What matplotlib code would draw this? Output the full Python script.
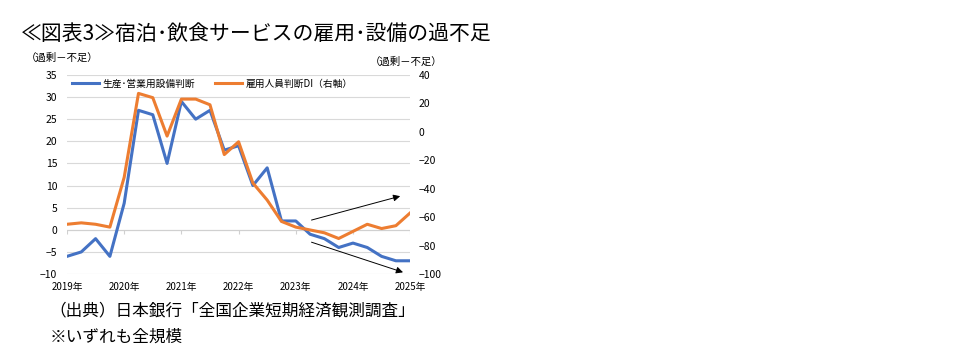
import matplotlib
matplotlib.use("Agg")
import matplotlib.pyplot as plt
import numpy as np

plt.rcParams['font.family'] = ['Noto Sans CJK JP', 'DejaVu Sans']

# quarterly, 2019 Q1 .. 2025 Q1
quarters = np.arange(25)
year_labels = ['2019年', '2020年', '2021年', '2022年', '2023年', '2024年', '2025年']
year_pos = quarters[::4]

setsubi = [-6, -5, -2, -6,
           6, 27, 26, 15,
           29, 25, 27, 18,
           19, 10, 14, 2,
           2, -1, -2, -4,
           -3, -4, -6, -7,
           -7]
koyou = [-65, -64, -65, -67,
         -32, 27, 24, -3,
         23, 23, 19, -16,
         -7, -36, -48, -63,
         -67, -69, -71, -75,
         -70, -65, -68, -66,
         -57]

# trend arrows (x in quarters, y on left axis)
arrow_up = ((17.1, 2.2), (23.3, 7.6))
arrow_down = ((17.1, -2.8), (23.5, -9.6))

blue = '#4472C4'
orange = '#ED7D31'

fig = plt.figure(figsize=(9.75, 3.55), dpi=100)
ax = fig.add_axes([0.0687, 0.228, 0.352, 0.561])
ax2 = ax.twinx()

l1, = ax.plot(quarters, setsubi, color=blue, lw=2.2, label='生産･営業用設備判断', zorder=3)
l2, = ax2.plot(quarters, koyou, color=orange, lw=2.2, label='雇用人員判断DI（右軸）', zorder=3)

ax.set_xlim(0, 24)
ax.set_ylim(-10, 35)
ax.set_yticks(np.arange(-10, 36, 5))
ax2.set_ylim(-100, 40)
ax2.set_yticks(np.arange(-100, 41, 20))

ax.grid(axis='y', color='#d9d9d9', lw=0.8)
ax.set_axisbelow(True)
for a in (ax, ax2):
    for s in a.spines.values():
        s.set_visible(False)

ax.axhline(0, color='#d0d0d0', lw=0.8, zorder=1)
ax.vlines(year_pos, -0.9, 0, color='#d0d0d0', lw=0.8, zorder=1)

ax.set_xticks(year_pos)
ax.set_xticklabels(year_labels)
ax.tick_params(axis='x', length=0, pad=6, labelsize=7)
ax.tick_params(axis='y', length=0, pad=7, labelsize=7.5)
ax2.tick_params(axis='y', length=0, pad=6, labelsize=7.5)

for (x0, y0), (x1, y1) in (arrow_up, arrow_down):
    ax.annotate('', xy=(x1, y1), xytext=(x0, y0),
                arrowprops=dict(arrowstyle='-|>', color='black', lw=0.7,
                                mutation_scale=10, shrinkA=0, shrinkB=0))

ax.legend(handles=[l1, l2], loc='upper left', ncol=2, frameon=False,
          fontsize=7, handlelength=2.8, handletextpad=0.4, columnspacing=2.0,
          bbox_to_anchor=(-0.012, 1.025))

fig.text(0.064, 0.837, '（過剰－不足）', fontsize=7.5, ha='center', va='center')
fig.text(0.417, 0.826, '（過剰－不足）', fontsize=7.5, ha='center', va='center')

fig.text(0.021, 0.904, '≪図表3≫宿泊･飲食サービスの雇用･設備の過不足', fontsize=15,
         ha='left', va='center')
fig.text(0.051, 0.124, '（出典）日本銀行「全国企業短期経済観測調査」', fontsize=12,
         ha='left', va='center')
fig.text(0.051, 0.051, '※いずれも全規模', fontsize=12, ha='left', va='center')

fig.savefig('out.png', dpi=100)
